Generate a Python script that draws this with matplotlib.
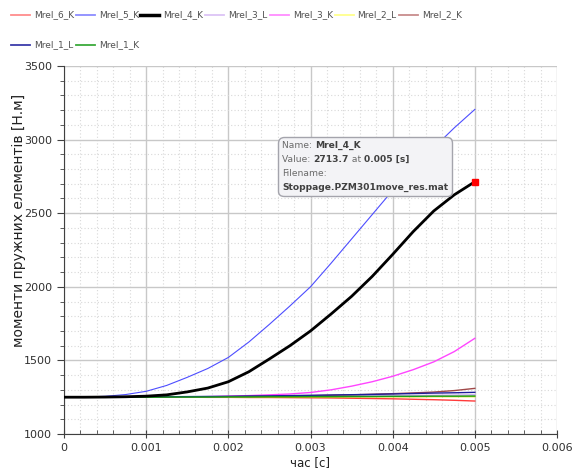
import matplotlib.pyplot as plt
from matplotlib.lines import Line2D
from matplotlib.ticker import MultipleLocator, FuncFormatter
from matplotlib.offsetbox import TextArea, HPacker, VPacker, AnchoredOffsetbox

# time axis [s]
t = [0, 0.00025, 0.0005, 0.00075, 0.001, 0.00125, 0.0015, 0.00175, 0.002, 0.00225,
     0.0025, 0.00275, 0.003, 0.00325, 0.0035, 0.00375, 0.004, 0.00425, 0.0045, 0.00475, 0.005]

# moments [N.m]
mrel_6_k = [1250, 1250, 1250, 1250, 1250, 1250, 1250, 1249, 1249, 1248,
            1248, 1247, 1246, 1245, 1243, 1241, 1239, 1236, 1233, 1229, 1224]
mrel_5_k = [1250, 1251, 1256, 1268, 1290, 1330, 1385, 1445, 1520, 1625,
            1745, 1870, 2000, 2160, 2325, 2490, 2655, 2805, 2945, 3080, 3205]
mrel_4_k = [1250, 1250, 1251, 1253, 1257, 1266, 1286, 1312, 1355, 1423,
            1510, 1600, 1700, 1815, 1935, 2070, 2220, 2375, 2515, 2625, 2713.7]
mrel_3_l = [1250, 1250, 1250, 1250, 1251, 1251, 1252, 1252, 1253, 1254,
            1255, 1256, 1257, 1258, 1259, 1260, 1261, 1262, 1263, 1264, 1266]
mrel_3_k = [1250, 1250, 1250, 1250, 1250, 1251, 1252, 1254, 1257, 1261,
            1266, 1272, 1282, 1300, 1325, 1355, 1392, 1437, 1490, 1560, 1650]
mrel_2_l = [1250, 1250, 1250, 1250, 1250, 1250, 1251, 1251, 1251, 1251,
            1252, 1252, 1252, 1252, 1253, 1253, 1253, 1253, 1254, 1254, 1254]
mrel_2_k = [1250, 1250, 1250, 1250, 1251, 1251, 1252, 1253, 1254, 1255,
            1256, 1258, 1260, 1263, 1266, 1270, 1274, 1279, 1285, 1295, 1310]
mrel_1_l = [1250, 1250, 1250, 1251, 1252, 1253, 1254, 1255, 1256, 1258,
            1259, 1261, 1263, 1265, 1267, 1269, 1272, 1275, 1278, 1280, 1283]
mrel_1_k = [1250, 1250, 1250, 1250, 1250, 1251, 1251, 1251, 1252, 1252,
            1253, 1253, 1254, 1254, 1255, 1255, 1256, 1256, 1257, 1257, 1258]

names = ['Mrel_6_K', 'Mrel_5_K', 'Mrel_4_K', 'Mrel_3_L', 'Mrel_3_K',
         'Mrel_2_L', 'Mrel_2_K', 'Mrel_1_L', 'Mrel_1_K']
series = [mrel_6_k, mrel_5_k, mrel_4_k, mrel_3_l, mrel_3_k,
          mrel_2_l, mrel_2_k, mrel_1_l, mrel_1_k]
colors = ['#ff3b3b', '#4d4dff', '#000000', '#c9a2f2', '#ff45ff',
          '#d6d600', '#a04848', '#1e1e9a', '#17a017']
widths = [1.0, 0.8, 2.0, 1.0, 1.0, 1.0, 1.0, 1.0, 1.0]
legend_colors = ['#ff8c8c', '#8c8cff', '#000000', '#dcc4f6', '#ff8cff',
                 '#ffff8c', '#c88c8c', '#3c3caa', '#3caa3c']

W, H = 582, 473
fig = plt.figure(figsize=(W / 100, H / 100), dpi=100)
ax = fig.add_axes([64 / W, 1 - 434 / H, 493 / W, 368 / H])

# draw order: black curve on top of the thin ones
order = [0, 1, 3, 4, 5, 6, 7, 8, 2]
for i in order:
    ax.plot(t, series[i], color=colors[i], lw=widths[i], zorder=3 if i == 2 else 2)

# selected point
ax.plot([t[-1]], [mrel_4_k[-1]], 's', color='red', ms=4.5, zorder=5)

ax.set_xlim(0, 0.006)
ax.set_ylim(1000, 3500)
ax.xaxis.set_major_locator(MultipleLocator(0.001))
ax.xaxis.set_minor_locator(MultipleLocator(0.0002))
ax.yaxis.set_major_locator(MultipleLocator(500))
ax.yaxis.set_minor_locator(MultipleLocator(100))
ax.xaxis.set_major_formatter(FuncFormatter(lambda v, p: f'{v:g}'))
ax.grid(which='major', color='#c8c8c8', lw=1.0, zorder=0)
ax.grid(which='minor', color='#d8d8d8', lw=0.8, ls=(0, (1, 2)), zorder=0)

for s in ['top', 'right']:
    ax.spines[s].set_visible(False)
for s in ['left', 'bottom']:
    ax.spines[s].set_color('#404040')
ax.tick_params(which='major', axis='y', direction='out', length=5, color='#404040',
               labelsize=8, labelcolor='#303030')
ax.tick_params(which='minor', axis='y', direction='out', length=3, color='#404040')
ax.tick_params(which='major', axis='x', direction='inout', length=6, color='#404040',
               labelsize=8, labelcolor='#303030')
ax.tick_params(which='minor', axis='x', direction='in', length=3, color='#404040')

ax.set_xlabel('час [с]', fontsize=8.5, color='#202020', labelpad=2)
ax.set_ylabel('моменти пружних елементів [Н.м]', fontsize=10, color='#202020')
ax.yaxis.set_label_coords(-0.077, (434 - 220) / 368)

# legend, 7 entries in first row
for i, name in enumerate(names):
    row, col = i // 7, i % 7
    x0 = (11 + col * 64.7) / W
    y = 1 - (15 + row * 30) / H
    fig.add_artist(Line2D([x0, x0 + 19 / W], [y, y], color=legend_colors[i],
                          lw=2.5 if i == 2 else 1.3))
    fig.text(x0 + 23 / W, y, name, fontsize=6.5, color='#505050', va='center')


# tooltip
def row(parts):
    return HPacker(children=[TextArea(s, textprops=dict(color=c, fontweight=w, fontsize=6.6))
                             for s, c, w in parts], pad=0, sep=0, align='baseline')

grey, dark = '#6a6a6a', '#404040'
box = VPacker(children=[
    row([('Name: ', grey, 'normal'), ('Mrel_4_K', dark, 'bold')]),
    row([('Value: ', grey, 'normal'), ('2713.7', dark, 'bold'), (' at ', grey, 'normal'),
         ('0.005 [s]', dark, 'bold')]),
    row([('Filename:', grey, 'normal')]),
    row([('Stoppage.PZM301move_res.mat', dark, 'bold')]),
], pad=0, sep=3.5, align='left')
tip = AnchoredOffsetbox(loc='upper left', child=box, pad=0.3, borderpad=0, frameon=True,
                        bbox_to_anchor=((278 - 64) / 493, (434 - 137) / 368),
                        bbox_transform=ax.transAxes)
tip.patch.set_boxstyle('round', pad=0, rounding_size=0.4)
tip.patch.set_facecolor('#f3f3f6')
tip.patch.set_edgecolor('#a4a4ac')
tip.set_zorder(10)
ax.add_artist(tip)

fig.savefig('out.png', dpi=100)
